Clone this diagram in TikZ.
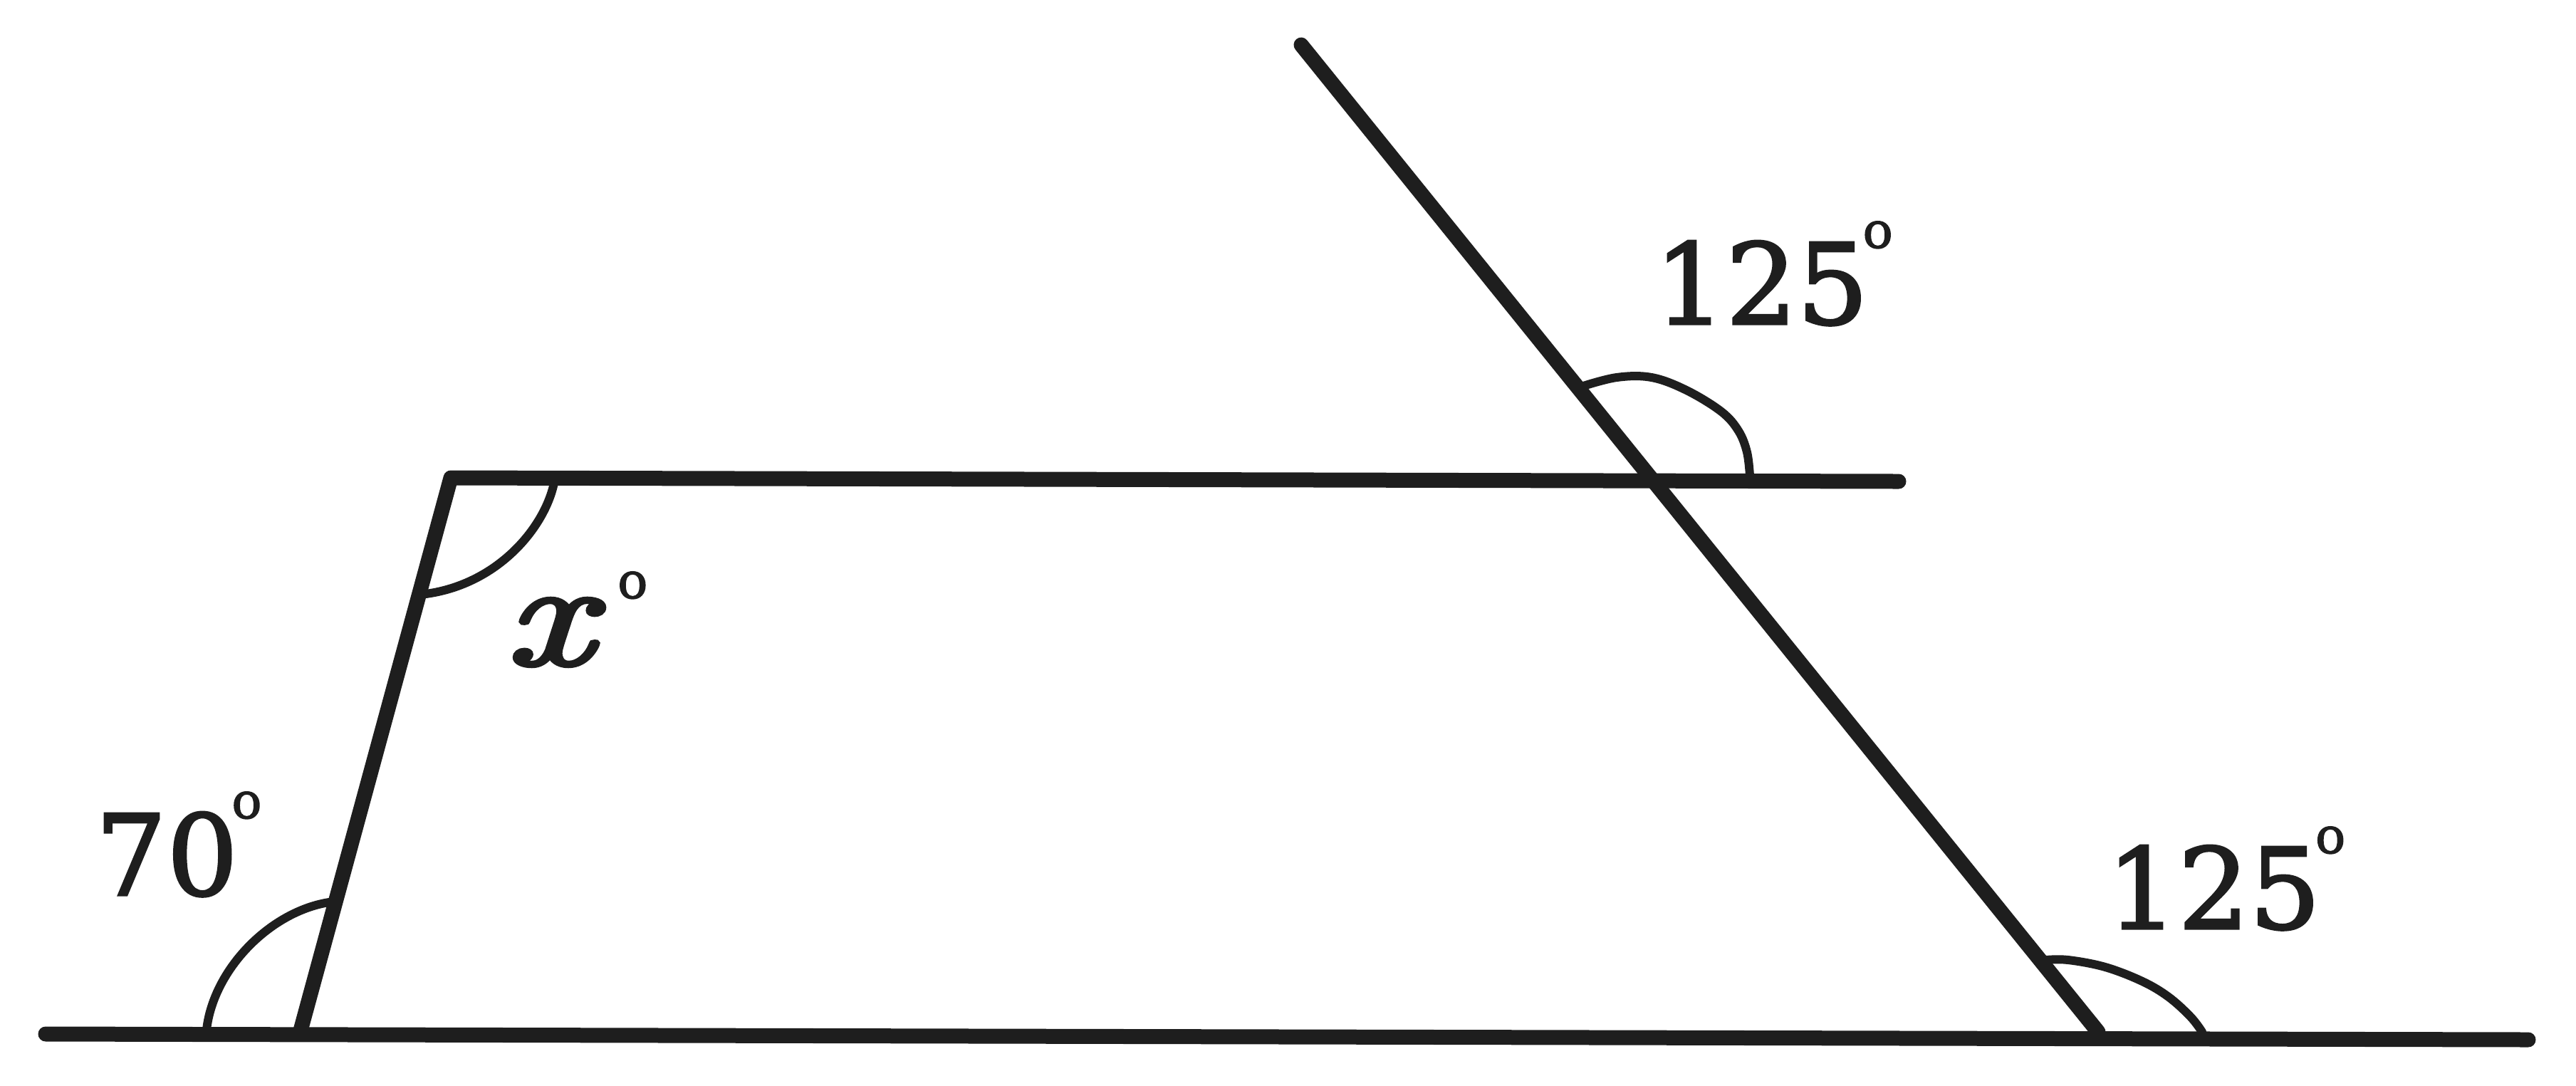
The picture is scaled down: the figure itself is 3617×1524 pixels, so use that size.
\documentclass[tikz,border=0pt]{standalone}
\usepackage{fontspec}
\setmainfont{DejaVu Serif}
\newfontfamily\labfont{DejaVu Serif}[FakeBold=2]
\newfontfamily\xfont{Latin Modern Roman}[FakeBold=3]
\definecolor{ink}{RGB}{30,30,30}
\newcommand\supro[2]{\kern#1\raisebox{#2}{\fontsize{14}{16}\selectfont o}}
\tikzset{
  mainline/.style={line width=4.2pt, line cap=round, line join=round, draw=ink},
  arcline/.style={line width=2.4pt, draw=ink, line cap=round, line join=round},
  lab/.style={inner sep=0pt, anchor=base west, text=ink, font=\labfont\fontsize{31.5}{36}\selectfont}
}
\begin{document}
\begin{tikzpicture}[x=0.2pt,y=-0.2pt]
\useasboundingbox (0,0) rectangle (3617,1524);
\coordinate (BL) at (64,1452);
\coordinate (BR) at (3550,1460);
\coordinate (A) at (422,1447);
\coordinate (B) at (633,671);
\coordinate (TR) at (2666,676);
\coordinate (DT) at (1827,63);
\coordinate (DB) at (2946,1449);
\draw[mainline] (BL) -- (BR);
\draw[mainline] (A) -- (B) -- (TR);
\draw[mainline] (DT) -- (DB);
% angle arcs
\draw[arcline] (290,1446) .. controls (300,1360) and (380,1280) .. (462,1267);
\draw[arcline] (778,678) .. controls (765,740) and (700,820) .. (598,834);
\draw[arcline] plot[smooth, tension=0.6] coordinates {(2220,543) (2270,530) (2319,530) (2368,548) (2417,578) (2441,605) (2453,635) (2457,668)};
\draw[arcline] plot[smooth, tension=0.6] coordinates {(2873,1348) (2904,1348) (2956,1358) (3008,1378) (3045,1400) (3076,1428) (3092,1449)};
% labels
\node[lab] (l70) at (133,1257) {70\supro{-1.8pt}{21.6pt}};
\node[lab] (lx) at (709,933) {\scalebox{1.3}[1]{\xfont\itshape\fontsize{41.8}{48}\selectfont x}\supro{7pt}{18.6pt}};
\node[lab] (l125a) at (2322,455) {125\supro{-1.6pt}{21.4pt}};
\node[lab] (l125b) at (2957,1304) {125\supro{-1.5pt}{21.2pt}};
\end{tikzpicture}
\end{document}
